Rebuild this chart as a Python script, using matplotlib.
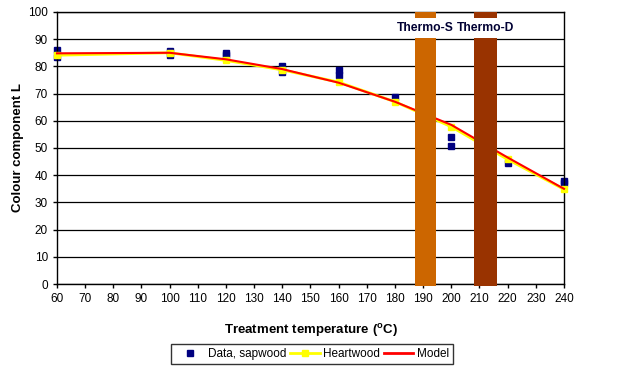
import numpy as np
import matplotlib.pyplot as plt
from matplotlib.lines import Line2D

plt.rcParams['font.family'] = ['Liberation Sans', 'DejaVu Sans']

# sapwood measurements (two samples per temperature)
sap_temp = [60, 60, 100, 100, 120, 120, 140, 140, 160, 160, 180, 200, 200, 220, 240, 240]
sap_L = [86, 83.3, 85.8, 84.3, 85, 84.3, 80.2, 77.8, 78.6, 76.8, 68.9, 54, 50.8, 44.4, 38, 37]

heart_temp = [60, 100, 120, 140, 160, 180, 200, 220, 240]
heart_L = [84.1, 85, 82.2, 78.7, 74.2, 67, 57.8, 45.8, 34.8]

model_temp = [60, 100, 120, 140, 160, 180, 200, 220, 240]
model_L = [84.8, 85, 82.6, 79, 74, 67, 58.5, 46.5, 35]

thermo_names = ['Thermo-S', 'Thermo-D']
thermo_temp = [190.8, 212.1]
thermo_width = [7.5, 8.2]
thermo_colors = ['#CC6600', '#993300']

fig = plt.figure(figsize=(6.18, 3.71), dpi=100)
ax = fig.add_axes([0.0922, 0.2345, 0.8204, 0.7332])

ax.set_xlim(60, 240)
ax.set_ylim(0, 100)
ax.set_xticks(np.arange(60, 241, 10))
ax.set_yticks(np.arange(0, 101, 10))
ax.yaxis.grid(True, color='black', lw=0.9)
ax.set_axisbelow(True)

ax.plot(heart_temp, heart_L, color='#FFFF00', lw=2, marker='s', ms=4, mec='#FFFF00', zorder=3, clip_on=False)
ax.plot(model_temp, model_L, color='#FF0000', lw=1.5, zorder=4, clip_on=False)
ax.plot(sap_temp, sap_L, ls='none', marker='s', ms=4.5, color='#000080', zorder=2, clip_on=False)

for name, t, w, c in zip(thermo_names, thermo_temp, thermo_width, thermo_colors):
    ax.bar(t, 91.3, width=w, bottom=-0.8, color=c, zorder=5, clip_on=False)
    ax.bar(t, 2.2, width=w, bottom=97.8, color=c, zorder=5)
    ax.text(t, 94.2, name, ha='center', va='center', fontsize=8.7, fontweight='bold',
            color='#000033', zorder=6,
            bbox=dict(facecolor='white', edgecolor='none', pad=1.5))

for s in ax.spines.values():
    s.set_color('black')
    s.set_linewidth(1)
ax.tick_params(direction='out', length=3, labelsize=8.5, colors='black', width=1)

ax.set_xlabel('Treatment temperature ($^{\\mathregular{o}}$C)', fontsize=9.5, fontweight='bold', labelpad=12)
ax.set_ylabel('Colour component L', fontsize=9.5, fontweight='bold', labelpad=3)

handles = [Line2D([], [], ls='none', marker='s', ms=4, color='#000080'),
           Line2D([], [], color='#FFFF00', lw=2, marker='s', ms=4),
           Line2D([], [], color='#FF0000', lw=2)]
leg = fig.legend(handles, ['Data, sapwood', 'Heartwood', 'Model'], loc='center',
                 bbox_to_anchor=(0.505, 0.045), ncol=3, fontsize=8.5, frameon=True,
                 fancybox=False, edgecolor='black', handlelength=2.5, handletextpad=0.3,
                 columnspacing=0.3, borderpad=0.35)
leg.get_frame().set_linewidth(1)

fig.savefig('out.png', dpi=100)
